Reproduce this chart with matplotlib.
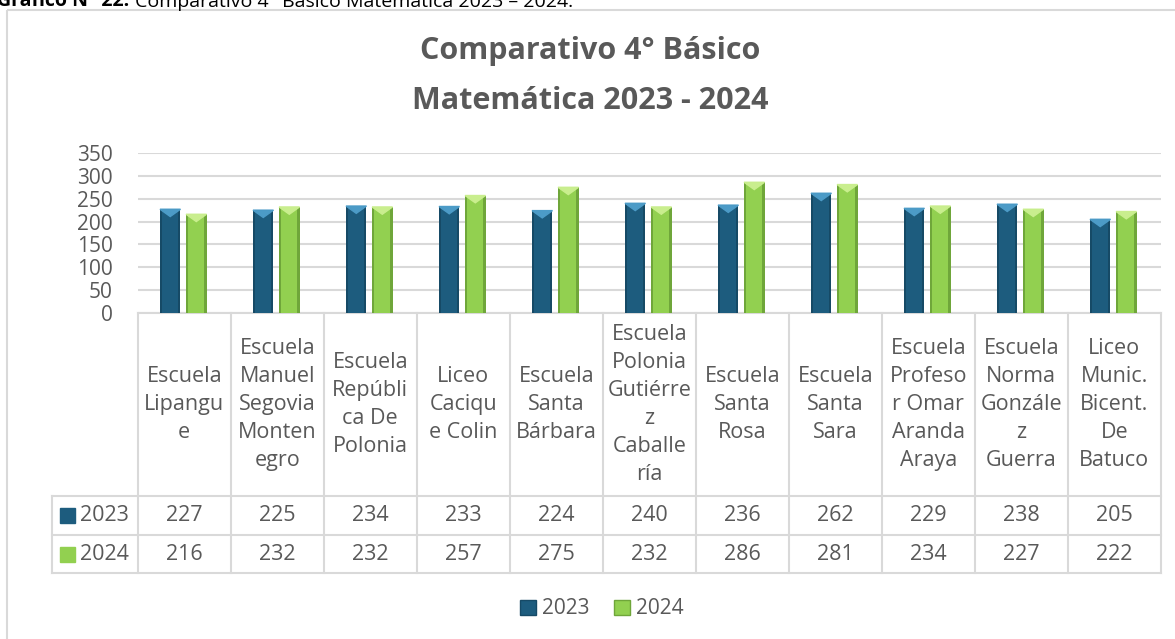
import matplotlib
matplotlib.use('Agg')
import matplotlib.pyplot as plt
from matplotlib.patches import Patch, Rectangle, Polygon

plt.rcParams['font.family'] = ['Open Sans', 'DejaVu Sans']

# ─── datos ───
schools = [
    "Escuela\nLipangu\ne",
    "Escuela\nManuel\nSegovia\nMonten\negro",
    "Escuela\nRepúbli\nca De\nPolonia",
    "Liceo\nCaciqu\ne Colin",
    "Escuela\nSanta\nBárbara",
    "Escuela\nPolonia\nGutiérre\nz\nCaballe\nría",
    "Escuela\nSanta\nRosa",
    "Escuela\nSanta\nSara",
    "Escuela\nProfeso\nr Omar\nAranda\nAraya",
    "Escuela\nNorma\nGonzále\nz\nGuerra",
    "Liceo\nMunic.\nBicent.\nDe\nBatuco",
]
values_2023 = [227, 225, 234, 233, 224, 240, 236, 262, 229, 238, 205]
values_2024 = [216, 232, 232, 257, 275, 232, 286, 281, 234, 227, 222]
series_names = ["2023", "2024"]
yticks = [0, 50, 100, 150, 200, 250, 300, 350]

W, H = 1175, 639
TXT = '#595959'
GRID = '#D9D9D9'
styles = [
    dict(face='#1D5C7E', edge='#164A66', top='#4C9BC7'),
    dict(face='#92D050', edge='#6FA63A', top='#C9EE8E'),
]

fig = plt.figure(figsize=(W / 100, H / 100), dpi=100)

# capa en píxeles para marco, tabla y textos
px = fig.add_axes([0, 0, 1, 1])
px.set_xlim(0, W)
px.set_ylim(H, 0)
px.axis('off')

# marco del gráfico
px.add_patch(Rectangle((7, 10), W, H, fill=False, ec=GRID, lw=1.5))

# leyenda de la figura (cortada arriba, como en el original)
cap = px.text(-3, 6, "Gráfico N° 22:", fontsize=14, fontweight='bold', color='black', va='baseline')
px.annotate("Comparativo 4° Básico Matemática 2023 – 2024.", xy=(1, 0), xycoords=cap,
            xytext=(4, 0), textcoords='offset points', fontsize=14, color='black', va='bottom')

# título
px.text(590, 51, "Comparativo 4° Básico", fontsize=22, fontweight='bold', color=TXT, ha='center', va='center')
px.text(590, 101, "Matemática 2023 - 2024", fontsize=22, fontweight='bold', color=TXT, ha='center', va='center')

# ─── barras ───
left, right, y0, y350 = 137.7, 1160.7, 313, 153
ax = fig.add_axes([left / W, 1 - y0 / H, (right - left) / W, (y0 - y350) / H])
n = len(schools)
ax.set_xlim(-0.5, n - 0.5)
ax.set_ylim(0, 350)
ax.set_yticks(yticks)
ax.tick_params(axis='y', length=0, pad=18, labelsize=15, labelcolor=TXT)
ax.set_xticks([])
for s in ax.spines.values():
    s.set_visible(False)
ax.grid(axis='y', color=GRID, lw=1.5)
ax.set_axisbelow(True)
ax.patch.set_alpha(0)

bw = 0.22
offsets = [-0.15, 0.13]
for vals, off, st in zip([values_2023, values_2024], offsets, styles):
    xs = [i + off for i in range(n)]
    ax.bar(xs, vals, width=bw, color=st['edge'], zorder=2)
    ax.bar(xs, vals, width=bw - 0.05, color=st['face'], zorder=3)
    for x, v in zip(xs, vals):
        d = 16
        ax.add_patch(Polygon([(x - bw / 2, v), (x + bw / 2, v), (x, v - d)],
                             closed=True, color=st['top'], zorder=4))

# ─── tabla de datos ───
col_w = (right - left) / n
lab_left = 52
r_head, r1, r2 = 496, 535, 573
lw = 1.5
px.plot([left, right], [y0, y0], color=GRID, lw=lw)
for yy in (r_head, r1, r2):
    px.plot([lab_left, right], [yy, yy], color=GRID, lw=lw)
for i in range(n + 1):
    xx = left + i * col_w
    px.plot([xx, xx], [y0, r2], color=GRID, lw=lw)
px.plot([lab_left, lab_left], [r_head, r2], color=GRID, lw=lw)

for i, name in enumerate(schools):
    xc = left + (i + 0.5) * col_w
    px.text(xc, (y0 + r_head) / 2, name, ha='center', va='center', fontsize=15.5,
            color=TXT, linespacing=1.45)
    px.text(xc, (r_head + r1) / 2, str(values_2023[i]), ha='center', va='center', fontsize=15.5, color=TXT)
    px.text(xc, (r1 + r2) / 2, str(values_2024[i]), ha='center', va='center', fontsize=15.5, color=TXT)

for (ya, yb), name, st in zip([(r_head, r1), (r1, r2)], series_names, styles):
    yc = (ya + yb) / 2
    px.add_patch(Rectangle((60, yc - 7.5), 15, 15, color=st['face']))
    px.text(80, yc, name, ha='left', va='center', fontsize=15.5, color=TXT)

# leyenda inferior
handles = [Patch(facecolor=st['face'], edgecolor=st['edge'], label=nm) for st, nm in zip(styles, series_names)]
fig.legend(handles=handles, loc='center', bbox_to_anchor=(602 / W, 1 - 609 / H), ncol=2,
           frameon=False, fontsize=15, labelcolor=TXT, handlelength=0.75, handleheight=0.75,
           handletextpad=0.3, columnspacing=1.2)

plt.savefig('out.png', dpi=100)
plt.close()
